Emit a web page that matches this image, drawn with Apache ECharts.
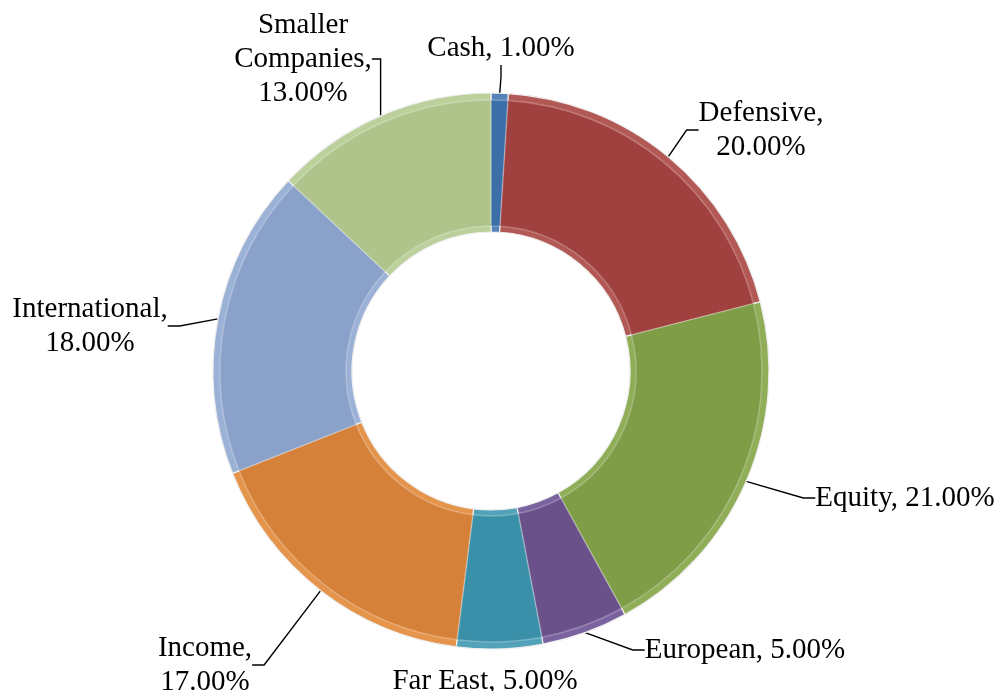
<!DOCTYPE html>
<html>
<head>
<meta charset="utf-8">
<title>Fund allocation</title>
<script src="https://cdn.jsdelivr.net/npm/echarts@6/dist/echarts.min.js"></script>
<style>
  html, body { margin: 0; padding: 0; background: #fff; }
  #chart { width: 997px; height: 691px; }
</style>
</head>
<body>
<div id="chart"></div>
<script>
// data
const categories = ['Cash', 'Defensive', 'Equity', 'European', 'Far East', 'Income', 'International', 'Smaller Companies']
const shares = [1, 20, 21, 5, 5, 17, 18, 13]

// label text pieces that wrap onto several lines
const labelHeads = {
  'Defensive': 'Defensive,\n',
  'Income': 'Income,\n',
  'International': 'International,\n',
  'Smaller Companies': 'Smaller\nCompanies,\n'
}

// styles
const faceColors = ['#3c6ea8', '#a0413f', '#7f9c46', '#6a5189', '#3a90a8', '#d5813a', '#8aa1c9', '#aec48a']
const rimColors = ['#5583b8', '#b25855', '#90ad58', '#7b63a0', '#52a3ba', '#e5944c', '#9bb1d6', '#bcd09c']

// label anchor points (text centre), px
const labelPos = {
  'Cash': [501, 48],
  'Defensive': [761, 130],
  'Equity': [905, 498],
  'European': [745, 650],
  'Far East': [485, 681],
  'Income': [205, 665],
  'International': [90, 326],
  'Smaller Companies': [303, 59]
}

const chart = echarts.init(document.getElementById('chart'))

function labelText(params) {
  const pct = params.value.toFixed(2) + '%'
  const head = labelHeads[params.name] || params.name + ', '
  return head + pct
}

const baseData = categories.map((name, i) => ({
  name,
  value: shares[i],
  itemStyle: { color: rimColors[i] },
  labelLine: { show: name !== 'Far East' }
}))

const faceData = categories.map((name, i) => ({
  name,
  value: shares[i],
  itemStyle: { color: faceColors[i] }
}))

const option = {
  backgroundColor: '#fff',
  animation: false,
  series: [
    {
      type: 'pie',
      center: [491, 371],
      radius: [139, 278],
      startAngle: 90,
      clockwise: true,
      avoidLabelOverlap: false,
      itemStyle: {
        borderColor: '#eeeeee',
        borderWidth: 1.2
      },
      label: {
        show: true,
        position: 'outside',
        formatter: labelText,
        fontFamily: '"Liberation Serif", "Times New Roman", serif',
        fontSize: 29,
        lineHeight: 34,
        color: '#000',
        align: 'center'
      },
      labelLine: {
        show: true,
        length: 20,
        length2: 12,
        lineStyle: { color: '#000', width: 1.4 }
      },
      labelLayout: function (params) {
        const p = labelPos[categories[params.dataIndex]]
        return { x: p[0], y: p[1], align: 'center', verticalAlign: 'middle' }
      },
      emphasis: { disabled: true },
      data: baseData
    },
    {
      type: 'pie',
      silent: true,
      center: [491, 371],
      radius: [145, 271],
      startAngle: 90,
      clockwise: true,
      label: { show: false },
      labelLine: { show: false },
      itemStyle: {
        borderColor: 'rgba(255,255,255,0.25)',
        borderWidth: 1.5
      },
      emphasis: { disabled: true },
      data: faceData
    }
  ]
}

chart.setOption(option)
</script>
</body>
</html>
